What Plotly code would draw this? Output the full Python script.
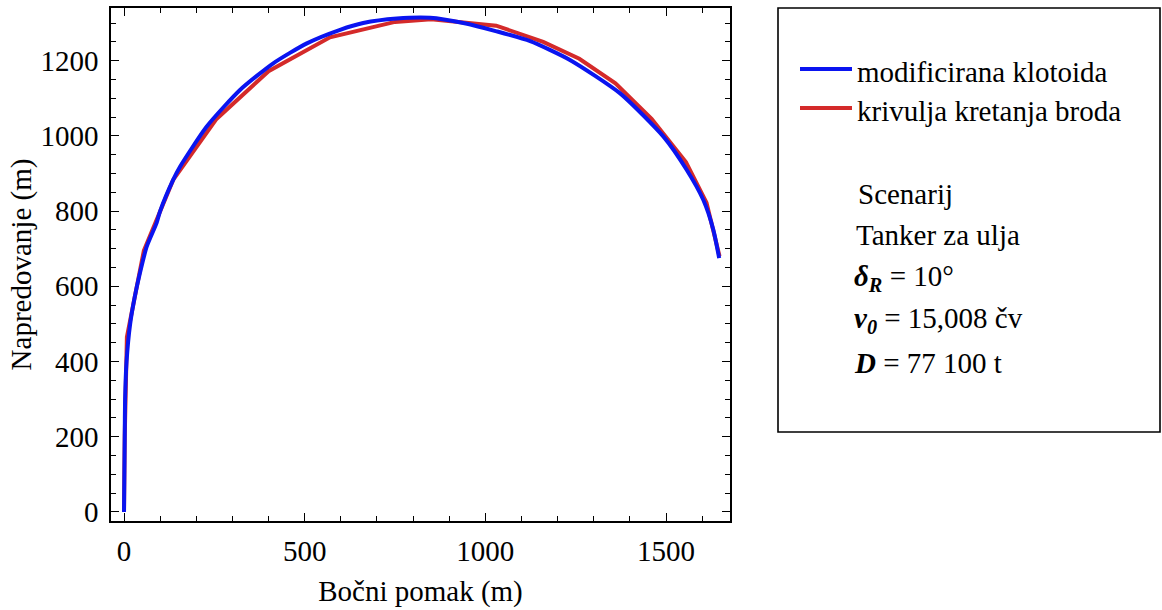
import plotly.graph_objects as go

# Modified clothoid (blue) – lateral displacement (x) and advance (y), metres
clot_x = [0, 1, 2, 3, 7, 17, 30, 44, 63, 90, 100, 136, 155, 229, 321, 413, 506, 598,
          662, 755, 847, 939, 1031, 1124, 1234, 1373, 1493, 1557, 1603, 1631, 1647]
clot_y = [0, 100, 200, 300, 400, 500, 573, 635, 706, 768, 800, 883, 918, 1025, 1122, 1193,
          1246, 1282, 1300, 1312, 1314, 1300, 1278, 1252, 1202, 1113, 998, 910, 830, 750, 675]

# Ship motion curve (red)
ship_x = [0, 2, 8, 55, 136, 256, 400, 570, 750, 850, 1030, 1160, 1260, 1360, 1460,
          1555, 1612, 1640, 1648]
ship_y = [0, 200, 465, 695, 883, 1045, 1172, 1262, 1303, 1310, 1293, 1250, 1205, 1140,
          1045, 930, 822, 715, 680]

x_range = [-36, 1677]
y_range = [-24, 1340]
x_ticks = [0, 500, 1000, 1500]
y_ticks = [0, 200, 400, 600, 800, 1000, 1200]

legend_names = ["modificirana klotoida", "krivulja kretanja broda"]
info_lines = [
    "Scenarij",
    "Tanker za ulja",
    "<b><i>δ</i></b><sub><b><i>R</i></b></sub> = 10°",
    "<b><i>v</i></b><sub><b><i>0</i></b></sub> = 15,008 čv",
    "<b><i>D</i></b> = 77 100 t",
]

BLUE = "#0a14f0"
RED = "#d42a2a"
FONT = "Liberation Serif"

fig = go.Figure()
fig.add_trace(go.Scatter(x=ship_x, y=ship_y, mode="lines", name=legend_names[1],
                         line=dict(color=RED, width=4)))
fig.add_trace(go.Scatter(x=clot_x, y=clot_y, mode="lines", name=legend_names[0],
                         line=dict(color=BLUE, width=4, shape="spline", smoothing=0.6)))

W, H = 1162, 610
L, R, T, B = 111, 730, 8, 521
pw, ph = R - L, B - T


def px(xp):
    return (xp - L) / pw


def py(yp):
    return (B - yp) / ph


axis_common = dict(
    showgrid=False, zeroline=False, showline=True, linecolor="black", linewidth=1.6,
    mirror="ticks", ticks="inside", ticklen=8, tickwidth=1.4, tickcolor="black",
    automargin=False,
    tickfont=dict(family=FONT, size=29, color="black"),
)

fig.update_layout(
    width=W, height=H,
    margin=dict(l=L, r=W - R, t=T, b=H - B, autoexpand=False),
    paper_bgcolor="white", plot_bgcolor="white",
    showlegend=False,
    font=dict(family=FONT, size=29, color="black"),
    xaxis=dict(range=x_range, tickvals=x_ticks, ticklabelstandoff=3,
               title=dict(text="Bočni pomak (m)", font=dict(family=FONT, size=29, color="black"),
                          standoff=15),
               minor=dict(dtick=100, tick0=0, ticks="inside", ticklen=5, tickwidth=1.3,
                          tickcolor="black"),
               **axis_common),
    yaxis=dict(range=y_range, tickvals=y_ticks, ticklabelstandoff=5,
               title=dict(text="Napredovanje (m)", font=dict(family=FONT, size=29, color="black"),
                          standoff=0),
               minor=dict(dtick=50, tick0=0, ticks="inside", ticklen=5, tickwidth=1.3,
                          tickcolor="black"),
               **axis_common),
)

# Legend / info box
fig.add_shape(type="rect", xref="paper", yref="paper",
              x0=px(778), x1=px(1160), y0=py(432), y1=py(8),
              line=dict(color="black", width=1.6), fillcolor="rgba(0,0,0,0)")

for name, color, yl in [(legend_names[0], BLUE, 69), (legend_names[1], RED, 108)]:
    fig.add_shape(type="line", xref="paper", yref="paper",
                  x0=px(800), x1=px(852), y0=py(yl), y1=py(yl),
                  line=dict(color=color, width=4))
    fig.add_annotation(xref="paper", yref="paper", x=px(855), y=py(yl + 3),
                       xanchor="left", yanchor="middle", showarrow=False, text=name,
                       font=dict(family=FONT, size=29, color="black"))

info_pos = [(856, 194), (854, 235), (852, 278), (852, 320), (852, 363)]
for txt, (xp_, yp_) in zip(info_lines, info_pos):
    fig.add_annotation(xref="paper", yref="paper", x=px(xp_), y=py(yp_),
                       xanchor="left", yanchor="middle", showarrow=False, text=txt,
                       font=dict(family=FONT, size=29, color="black"))

fig.write_html("out.html",
               config={"displayModeBar": False},
               post_script="document.body.style.margin='0';document.body.style.padding='0';")
